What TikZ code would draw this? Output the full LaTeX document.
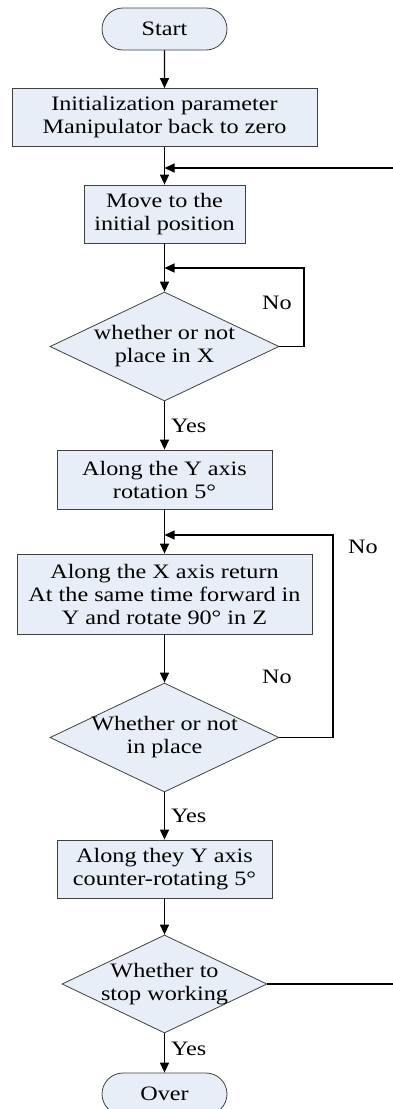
\documentclass[tikz,border=0pt]{standalone}
\usepackage{fontspec}
\setmainfont{Liberation Serif}[FakeStretch=1.18]
\usetikzlibrary{shapes.geometric,shapes.misc,arrows.meta}
\definecolor{boxfill}{HTML}{E8EEF8}
\definecolor{boxline}{HTML}{404040}
\tikzset{every node/.style={font=\fontsize{20.5}{23}\selectfont}}

\begin{document}
\begin{tikzpicture}[x=1pt,y=-1pt,
   proc/.style={draw=boxline,fill=boxfill,line width=0.8pt,inner sep=0pt,align=center},
   term/.style={proc,rounded rectangle,minimum width=125pt,minimum height=42pt},
   decision/.style={proc,diamond,inner sep=-6pt,shape aspect=2.1},
   flow/.style={line width=1.4pt,-{Triangle[length=10pt,width=9pt]}},
   lbl/.style={inner sep=0pt}]

   \useasboundingbox (0,0) rectangle (393,1109);

   \node[term] (start) at (164.5,29) {Start};
   \node[proc,minimum width=305pt,minimum height=58pt] (init) at (164.5,117.5) {Initialization parameter\\Manipulator back to zero};
   \node[proc,minimum width=161pt,minimum height=58pt] (move) at (164.5,214) {Move to the\\initial position};
   \node[decision,minimum width=229pt,minimum height=109pt] (qx) at (164.5,346.5) {whether or not\\place in X};
   \node[proc,minimum width=215pt,minimum height=59pt] (rot) at (164.5,479.5) {Along the Y axis\\rotation 5°};
   \node[proc,minimum width=295pt,minimum height=80pt] (ret) at (164.5,594) {Along the X axis return\\At the same time forward in\\Y and rotate 90° in Z};
   \node[decision,minimum width=229pt,minimum height=109pt] (qp) at (164.5,737.5) {Whether or not\\in place};
   \node[proc,minimum width=215pt,minimum height=58pt] (crot) at (164.5,869) {Along they Y axis\\counter-rotating 5°};
   \node[decision,minimum width=205pt,minimum height=98pt] (qs) at (164.5,984) {Whether to\\stop working};
   \node[term] (over) at (164.5,1094) {Over};

   % main line
   \draw[flow] (start) -- (init);
   \draw[flow] (init) -- (move);
   \draw[flow] (move) -- (qx);
   \draw[flow] (qx) -- node[lbl,right=6pt] (yes1) {Yes} (rot);
   \draw[flow] (rot) -- (ret);
   \draw[flow] (ret) -- (qp);
   \draw[flow] (qp) -- node[lbl,right=6pt] (yes2) {Yes} (crot);
   \draw[flow] (crot) -- (qs);
   \draw[flow] (qs) -- node[lbl,right=6pt,pos=.4] (yes3) {Yes} (over);

   % loops
   \coordinate (back) at (400,168);
   \coordinate (lx) at (304,268);
   \coordinate (ly) at (333,535);
   \draw[flow] (back) -- (back -| init.south);
   \draw[flow] (qx.east) -| (lx) -- (lx -| move.south);
   \draw[flow] (qp.east) -| (ly) -- (ly -| rot.south);
   \draw[line width=1.4pt] (qs.east) -- (qs.east -| back);

   \node[lbl] (no1) at (277,303) {No};
   \node[lbl] (no2) at (363,547) {No};
   \node[lbl] (no3) at (277,677) {No};
\end{tikzpicture}
\end{document}
